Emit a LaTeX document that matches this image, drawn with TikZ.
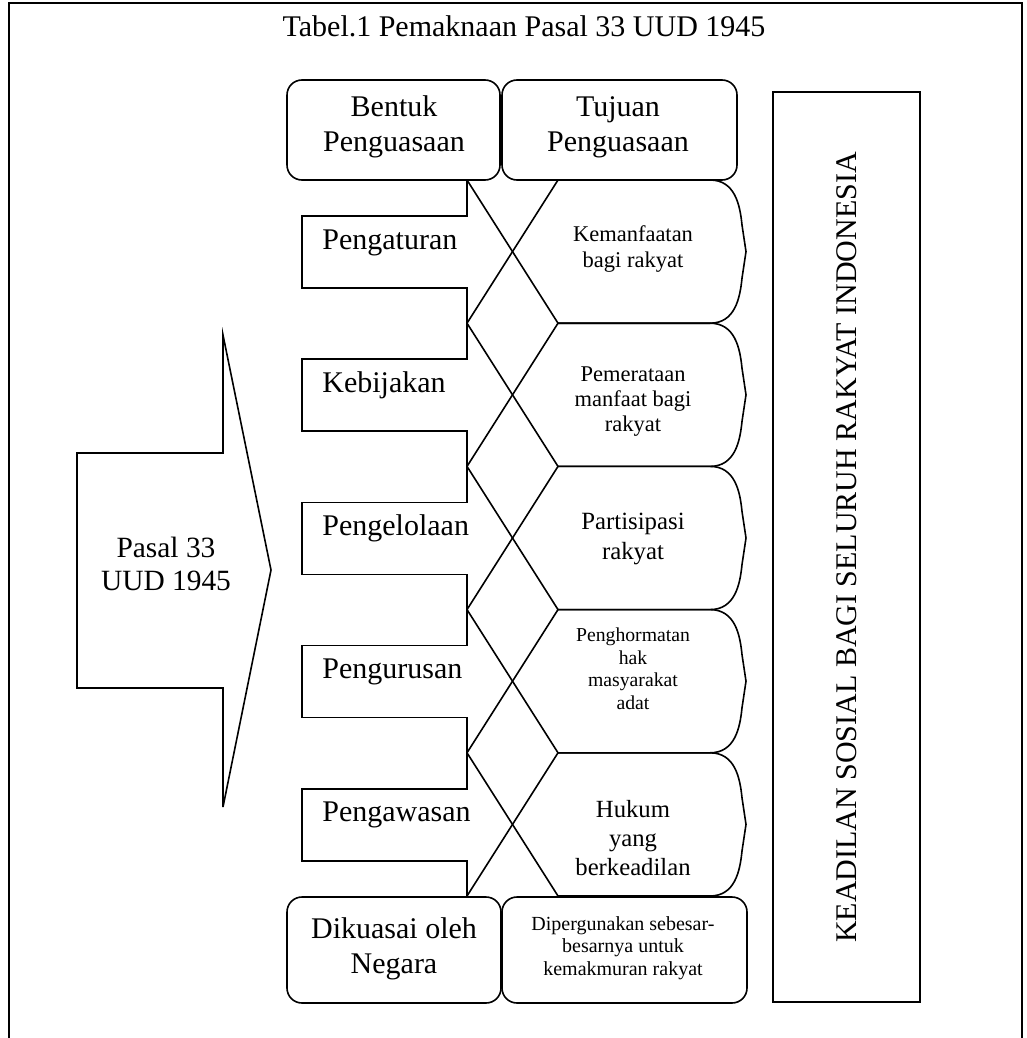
\documentclass[tikz,border=0pt]{standalone}
\usepackage{fontspec}
\setmainfont{Liberation Serif}
\newcommand\fsz[2]{\fontsize{#1}{#2}\selectfont}
\tikzset{
  ln/.style={line width=0.8pt, line join=miter},
  rbox/.style={draw, line width=0.8pt, rounded corners=7.5pt},
  txt/.style={align=center, inner sep=0pt},
  lab/.style={anchor=base west, inner sep=0pt, font=\fsz{15}{18}},
}
\begin{document}
\begin{tikzpicture}[x=0.5pt,y=-0.5pt]
\useasboundingbox (0,0) rectangle (1027,1038);
% outer frame
\draw[ln] (9,1040) -- (9,3) -- (1022,3) -- (1022,1040);
\node[txt, font=\fsz{15}{18}] (title) at (524,26) {Tabel.1 Pemaknaan Pasal 33 UUD 1945};

% junction coordinates
\foreach \i in {0,...,5} {
  \pgfmathsetmacro\yy{180+143.2*\i}
  \coordinate (L\i) at (467,\yy);
  \coordinate (R\i) at (558,\yy);
}

% step shapes (left) and rounded-point shapes (right)
\foreach \i in {0,...,4} {
  \pgfmathsetmacro\y{180+143.2*\i}
  \draw[ln] (467,\y) -- (467,\y+36) -- (302,\y+36) -- (302,\y+108) -- (467,\y+108) -- (467,\y+143.2);
  \draw[ln] (558,\y) -- (710,\y) .. controls (735,\y) and (740,\y+25) .. (742,\y+45)
     -- (746,\y+71.6) -- (742,\y+98.2) .. controls (740,\y+118.2) and (735,\y+143.2) .. (710,\y+143.2) -- (558,\y+143.2);
}

% crossing connectors
\foreach \i/\j in {0/1,1/2,2/3,3/4,4/5} {
  \draw[ln] (L\i) -- (R\j);
  \draw[ln] (R\i) -- (L\j);
}

% header boxes
\draw[rbox] (287,80) rectangle (500,180);
\draw[rbox] (502,80) rectangle (737,180);
\node[txt, font=\fsz{15}{17.5}] (hdrB) at (394,127) {Bentuk\\Penguasaan};
\node[txt, font=\fsz{15}{17.5}] (hdrT) at (618,127) {Tujuan\\Penguasaan};

% bottom boxes
\draw[rbox] (287,897) rectangle (501,1003);
\draw[rbox] (502,897) rectangle (747,1003);
\node[txt, font=\fsz{15}{17.5}] (bot1) at (394,949) {Dikuasai oleh\\Negara};
\node[txt, font=\fsz{10}{11.25}] (bot2) at (623,948) {Dipergunakan sebesar-\\besarnya untuk\\kemakmuran rakyat};

% left labels
\node[lab] (lab0) at (322,249) {Pengaturan};
\node[lab] (lab1) at (322,392.2) {Kebijakan};
\node[lab] (lab2) at (322,535.4) {Pengelolaan};
\node[lab] (lab3) at (322,678.6) {Pengurusan};
\node[lab] (lab4) at (322,821.8) {Pengawasan};

% right labels
\node[txt, font=\fsz{11.25}{13.3}] (val0) at (633,249) {Kemanfaatan\\bagi rakyat};
\node[txt, font=\fsz{11.25}{12.5}] (val1) at (633,402) {Pemerataan\\manfaat bagi\\rakyat};
\node[txt, font=\fsz{12.4}{15}] (val2) at (633,539) {Partisipasi\\rakyat};
\node[txt, font=\fsz{9.85}{11.25}] (val3) at (633,669) {Penghormatan\\hak\\masyarakat\\adat};
\node[txt, font=\fsz{12.35}{14.5}] (val4) at (633,838) {Hukum\\yang\\berkeadilan};

% big arrow
\draw[ln] (223,335) -- (223,453) -- (77,453) -- (77,688) -- (223,688) -- (223,807) -- (271,570) -- cycle;
\node[txt, font=\fsz{14.7}{16.5}] (pasal) at (166,564) {Pasal 33\\UUD 1945};

% right box
\draw[ln] (773,92) rectangle (920,1002);
\node[inner sep=0pt, rotate=90, font=\fsz{15}{18}] (keadilan) at (847,547.5) {KEADILAN SOSIAL BAGI SELURUH RAKYAT INDONESIA};
\end{tikzpicture}
\end{document}
